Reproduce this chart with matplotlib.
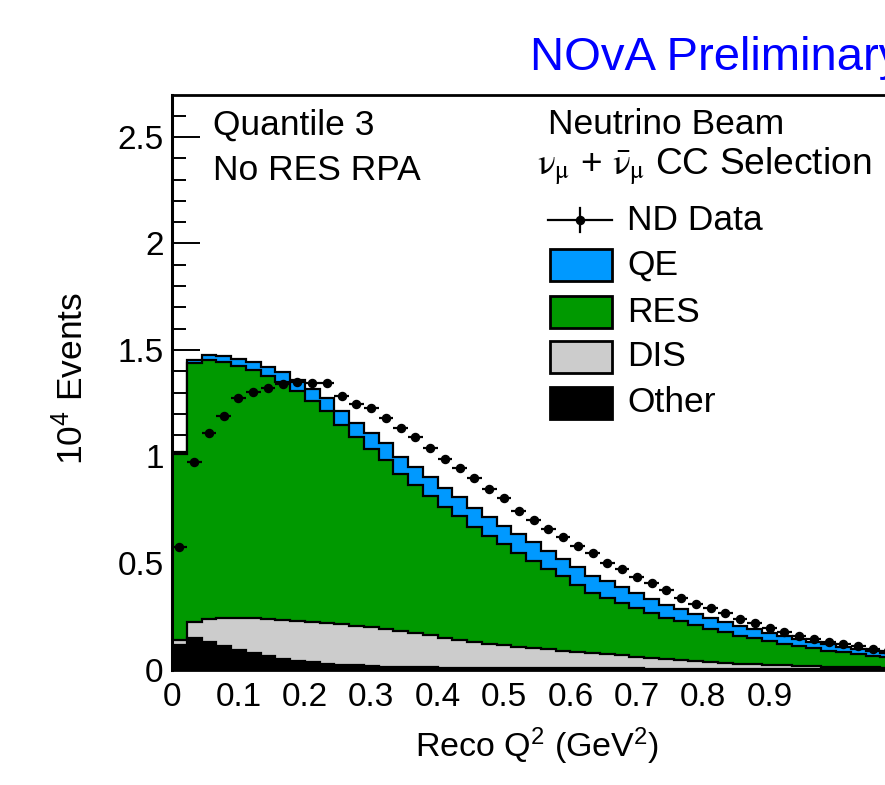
import numpy as np
import matplotlib
matplotlib.use('Agg')
import matplotlib.pyplot as plt
from matplotlib.patches import Rectangle
from matplotlib.lines import Line2D

# ---------------- data (units of 10^4 events), 50 equal bins ----------------
bin_edges = np.linspace(0, 50 / 45, 51)

qe = [0.008, 0.015, 0.022, 0.028, 0.033, 0.038, 0.042, 0.047, 0.052, 0.056,
      0.061, 0.065, 0.069, 0.073, 0.077, 0.081, 0.084, 0.086, 0.088, 0.089,
      0.089, 0.089, 0.088, 0.087, 0.086, 0.085, 0.083, 0.081, 0.080, 0.077,
      0.074, 0.070, 0.066, 0.062, 0.058, 0.055, 0.051, 0.048, 0.045, 0.042,
      0.039, 0.036, 0.034, 0.031, 0.029, 0.027, 0.025, 0.023, 0.021, 0.020]

res = [0.874, 1.216, 1.216, 1.201, 1.182, 1.167, 1.139, 1.119, 1.080, 1.036,
       0.994, 0.935, 0.884, 0.837, 0.794, 0.735, 0.696, 0.655, 0.613, 0.579,
       0.537, 0.504, 0.473, 0.441, 0.411, 0.379, 0.349, 0.316, 0.282, 0.265,
       0.244, 0.229, 0.209, 0.193, 0.182, 0.167, 0.155, 0.142, 0.131, 0.121,
       0.111, 0.102, 0.092, 0.084, 0.076, 0.068, 0.061, 0.054, 0.048, 0.042]

dis = [0.023, 0.074, 0.106, 0.131, 0.150, 0.163, 0.173, 0.181, 0.186, 0.189,
       0.190, 0.189, 0.187, 0.183, 0.177, 0.170, 0.161, 0.151, 0.141, 0.131,
       0.123, 0.114, 0.107, 0.100, 0.093, 0.088, 0.082, 0.077, 0.073, 0.068,
       0.062, 0.056, 0.051, 0.046, 0.041, 0.036, 0.032, 0.029, 0.025, 0.022,
       0.019, 0.016, 0.014, 0.012, 0.011, 0.010, 0.009, 0.008, 0.007, 0.006]

other = [0.115, 0.150, 0.131, 0.112, 0.093, 0.077, 0.064, 0.051, 0.042, 0.034,
         0.028, 0.023, 0.019, 0.016, 0.014, 0.012, 0.011, 0.010, 0.009, 0.009,
         0.008, 0.008, 0.007, 0.007, 0.007, 0.006, 0.006, 0.006, 0.005, 0.005,
         0.005, 0.005, 0.004, 0.004, 0.004, 0.004, 0.004, 0.003, 0.003, 0.003,
         0.003, 0.003, 0.003, 0.003, 0.002, 0.002, 0.002, 0.002, 0.002, 0.002]

nd_data = [0.575, 0.975, 1.109, 1.190, 1.273, 1.304, 1.320, 1.339, 1.348, 1.344,
           1.344, 1.285, 1.246, 1.226, 1.180, 1.133, 1.091, 1.041, 0.987, 0.946,
           0.899, 0.849, 0.804, 0.743, 0.702, 0.660, 0.620, 0.582, 0.546, 0.499,
           0.472, 0.433, 0.405, 0.373, 0.334, 0.308, 0.287, 0.267, 0.236, 0.220,
           0.196, 0.175, 0.159, 0.142, 0.130, 0.120, 0.110, 0.095, 0.088, 0.080]

layer_names = ["Other", "DIS", "RES", "QE"]
layer_colors = ["black", "#cccccc", "#009900", "#0099ff"]

xtick_vals = [0, 0.1, 0.2, 0.3, 0.4, 0.5, 0.6, 0.7, 0.8, 0.9]
xtick_labels = ["0", "0.1", "0.2", "0.3", "0.4", "0.5", "0.6", "0.7", "0.8", "0.9"]
ytick_vals = [0, 0.5, 1, 1.5, 2, 2.5]
ytick_labels = ["0", "0.5", "1", "1.5", "2", "2.5"]

# ---------------- style ----------------
plt.rcParams['font.family'] = ['Liberation Sans', 'DejaVu Sans']
plt.rcParams['mathtext.fontset'] = 'custom'
plt.rcParams['mathtext.rm'] = 'Liberation Sans'
plt.rcParams['mathtext.it'] = 'Liberation Sans:italic'
plt.rcParams['mathtext.bf'] = 'Liberation Sans:bold'

W, H = 885, 785
fig = plt.figure(figsize=(W / 100, H / 100), dpi=100)


def fx(px):
    return px / W


def fy(py):
    return 1 - py / H


X0, YB, YT = 172, 669.5, 95
PX_PER_UNIT = 664
XMAX = 1.2
ax = fig.add_axes([fx(X0), fy(YB), PX_PER_UNIT * XMAX / W, (YB - YT) / H])
ax.set_xlim(0, XMAX)
ax.set_ylim(0, 2.697)
ax.set_axisbelow(True)

edges = np.array(bin_edges)
cum = np.cumsum(np.array([other, dis, res, qe]), axis=0)
for i in range(3, -1, -1):
    ax.stairs(cum[i], edges, baseline=0, fill=True, color=layer_colors[i],
              linewidth=0, zorder=2)
    ax.stairs(cum[i], edges, baseline=0, fill=False, color='black',
              linewidth=1.6, zorder=2)

centers = 0.5 * (edges[:-1] + edges[1:])
half_w = 0.5 * np.diff(edges)
ax.errorbar(centers, nd_data, xerr=half_w, fmt='o', color='black', ms=5.8,
            elinewidth=1.6, capsize=0, zorder=3)

# axes styling
ax.spines['right'].set_visible(False)
ax.spines['left'].set_linewidth(2.2)
ax.spines['top'].set_linewidth(2.0)
ax.spines['bottom'].set_linewidth(2.0)

ax.set_yticks(ytick_vals, ytick_labels)
ax.set_yticks(np.arange(0, 2.69, 0.1), minor=True)
ax.set_xticks(xtick_vals, xtick_labels)
ax.tick_params(axis='y', which='major', direction='in', length=20, width=1.4,
               pad=6, labelsize=24, right=False)
ax.tick_params(axis='y', which='minor', direction='in', length=10, width=1.4,
               right=False)
ax.tick_params(axis='x', which='major', direction='in', length=0, pad=9,
               labelsize=24, top=False)

FS = 25.5
# axis titles
fig.text(fx(537), fy(746), r"Reco Q$^{2}$ (GeV$^{2}$)", ha='center', va='center',
         fontsize=24.5)
fig.text(fx(72), fy(378), r"10$^{4}$ Events", ha='center', va='center',
         rotation=90, fontsize=FS)

# annotations
fig.text(fx(530), fy(58), "NOvA Preliminary", color='#0000ff', fontsize=34,
         ha='left', va='center')
fig.text(fx(213), fy(125), "Quantile 3", fontsize=FS, ha='left', va='center')
fig.text(fx(213), fy(170), "No RES RPA", fontsize=FS, ha='left', va='center')
fig.text(fx(548), fy(125), "Neutrino Beam", fontsize=FS, ha='left', va='center')
fig.text(fx(537), fy(167),
         r"$\mathrm{\nu}_{\mathrm{\mu}}$ + $\bar{\mathrm{\nu}}_{\mathrm{\mu}}$ CC Selection",
         fontsize=26.7, ha='left', va='center', math_fontfamily='stix')

# legend (drawn manually)
ly = 220
fig.add_artist(Line2D([fx(548), fx(612)], [fy(ly), fy(ly)], color='black', lw=1.6,
                      transform=fig.transFigure))
fig.add_artist(Line2D([fx(580), fx(580)], [fy(ly - 12), fy(ly + 12)], color='black',
                      lw=1.6, transform=fig.transFigure))
fig.add_artist(Line2D([fx(580)], [fy(ly)], color='black', marker='o', ms=5.8,
                      transform=fig.transFigure))
fig.text(fx(627), fy(ly), "ND Data", fontsize=FS, ha='left', va='center')

leg_rows = [("QE", 3, 265), ("RES", 2, 312), ("DIS", 1, 357), ("Other", 0, 403)]
for name, idx, yc in leg_rows:
    fig.add_artist(Rectangle((fx(550), fy(yc + 16)), 62 / W, 32 / H,
                             facecolor=layer_colors[idx], edgecolor='black', lw=2,
                             transform=fig.transFigure))
    fig.text(fx(627), fy(yc), name, fontsize=FS, ha='left', va='center')

fig.savefig("out.png", dpi=100)
